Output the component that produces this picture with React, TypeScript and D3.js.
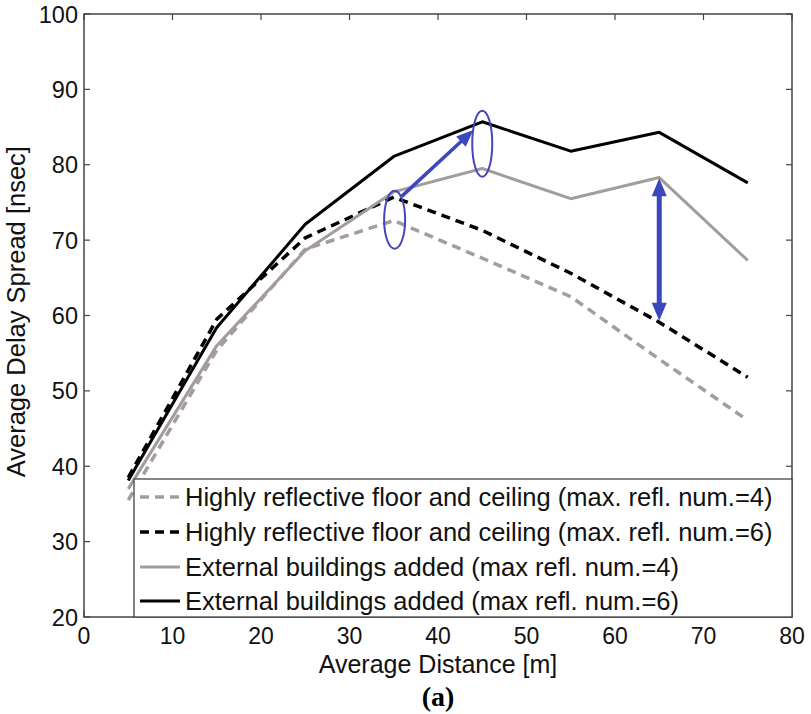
import React from "react";
import * as d3 from "d3";

const distances = [5, 15, 25, 35, 45, 55, 65, 75];
const floorRefl4 = [35.5, 55.4, 68.8, 72.6, 67.6, 62.5, 54.2, 46.1];
const floorRefl6 = [38.5, 59.5, 70.3, 75.7, 71.3, 65.6, 59.1, 51.8];
const buildings4 = [37.0, 56.0, 68.6, 76.4, 79.5, 75.5, 78.3, 67.3];
const buildings6 = [38.1, 58.4, 72.1, 81.1, 85.7, 81.8, 84.3, 77.6];

const xTicks = [0, 10, 20, 30, 40, 50, 60, 70, 80];
const yTicks = [20, 30, 40, 50, 60, 70, 80, 90, 100];

const seriesLabels = [
  "Highly reflective floor and ceiling (max. refl. num.=4)",
  "Highly reflective floor and ceiling (max. refl. num.=6)",
  "External buildings added (max refl. num.=4)",
  "External buildings added (max refl. num.=6)",
];

const W = 811;
const H = 714;
const FONT = "'Liberation Sans', Arial, sans-serif";
const BLUE = "#3b47bc";

export default function App() {
  const x = d3.scaleLinear().domain([0, 80]).range([84, 792]);
  const y = d3.scaleLinear().domain([20, 100]).range([617, 14]);

  const series = [
    { values: floorRefl4, color: "#a59d9b", dash: "9,6", width: 3.5 },
    { values: floorRefl6, color: "#000000", dash: "9,6", width: 3.5 },
    { values: buildings4, color: "#a39c9a", dash: null, width: 3 },
    { values: buildings6, color: "#000000", dash: null, width: 3 },
  ];

  const line = d3
    .line<[number, number]>()
    .x((d) => x(d[0]))
    .y((d) => y(d[1]));

  const legend = { x0: 134, y0: 479, x1: 792, y1: 617 };
  const rowY = [497, 532, 567, 601];

  // annotations (data units)
  const ell1 = { cx: 35.1, cy: 72.7, rx: 10.5, ry: 29 };
  const ell2 = { cx: 45.0, cy: 82.8, rx: 10, ry: 33 };
  const arrow1 = { x1: 35.9, y1: 75.8, x2: 44.0, y2: 84.6 };
  const arrow2 = { x: 65, y1: 78.2, y2: 59.3 };

  const head = (tx: number, ty: number, fx: number, fy: number, len: number, wid: number) => {
    const dx = tx - fx;
    const dy = ty - fy;
    const L = Math.hypot(dx, dy);
    const ux = dx / L;
    const uy = dy / L;
    const bx = tx - ux * len;
    const by = ty - uy * len;
    const px = -uy * (wid / 2);
    const py = ux * (wid / 2);
    return `${tx},${ty} ${bx + px},${by + py} ${bx - px},${by - py}`;
  };

  const a1x1 = x(arrow1.x1), a1y1 = y(arrow1.y1), a1x2 = x(arrow1.x2), a1y2 = y(arrow1.y2);
  const a2x = x(arrow2.x), a2y1 = y(arrow2.y1), a2y2 = y(arrow2.y2);
  const ang = Math.atan2(a1y2 - a1y1, a1x2 - a1x1);
  const a1lineEndX = a1x2 - Math.cos(ang) * 12;
  const a1lineEndY = a1y2 - Math.sin(ang) * 12;

  return (
    <svg
      width={W}
      height={H}
      style={{ position: "absolute", left: 0, top: 0, background: "#fff" }}
      fontFamily={FONT}
    >
      <rect x={0} y={0} width={W} height={H} fill="#fff" />
      {/* series */}
      {series.map((s, i) => (
        <path
          key={i}
          d={line(distances.map((d, j) => [d, s.values[j]] as [number, number])) || ""}
          fill="none"
          stroke={s.color}
          strokeWidth={s.width}
          strokeDasharray={s.dash || undefined}
          strokeLinejoin="round"
        />
      ))}

      {/* axes box */}
      <rect
        x={x(0)}
        y={y(100)}
        width={x(80) - x(0)}
        height={y(20) - y(100)}
        fill="none"
        stroke="#444"
        strokeWidth={1.5}
      />
      {xTicks.map((t) => (
        <g key={"xt" + t}>
          <line x1={x(t)} x2={x(t)} y1={y(20)} y2={y(20) - 6} stroke="#444" strokeWidth={1.2} />
          <line x1={x(t)} x2={x(t)} y1={y(100)} y2={y(100) + 6} stroke="#444" strokeWidth={1.2} />
          <text x={x(t)} y={644} textAnchor="middle" fontSize={23} fill="#111">
            {t}
          </text>
        </g>
      ))}
      {yTicks.map((t) => (
        <g key={"yt" + t}>
          <line x1={x(0)} x2={x(0) + 6} y1={y(t)} y2={y(t)} stroke="#444" strokeWidth={1.2} />
          <line x1={x(80)} x2={x(80) - 6} y1={y(t)} y2={y(t)} stroke="#444" strokeWidth={1.2} />
          <text x={78} y={y(t) + 8.5} textAnchor="end" fontSize={23.5} fill="#111">
            {t}
          </text>
        </g>
      ))}

      {/* axis titles */}
      <text x={438} y={673} textAnchor="middle" fontSize={25} fill="#111">
        Average Distance [m]
      </text>
      <text
        transform={`translate(25,${311.7}) rotate(-90)`}
        textAnchor="middle"
        fontSize={25.5}
        fill="#111"
      >
        Average Delay Spread [nsec]
      </text>
      <text
        x={438}
        y={706}
        textAnchor="middle"
        fontSize={28}
        fontWeight="bold"
        fontFamily="'Liberation Serif', 'Times New Roman', serif"
        fill="#000"
      >
        (a)
      </text>

      {/* legend */}
      <rect
        x={legend.x0}
        y={legend.y0}
        width={legend.x1 - legend.x0}
        height={legend.y1 - legend.y0}
        fill="#fff"
        stroke="#444"
        strokeWidth={1.3}
      />
      {series.map((s, i) => (
        <g key={"lg" + i}>
          <line
            x1={140}
            x2={180}
            y1={rowY[i]}
            y2={rowY[i]}
            stroke={s.color}
            strokeWidth={s.width}
            strokeDasharray={s.dash || undefined}
          />
          <text x={185} y={rowY[i] + 9} fontSize={25.5} fill="#111">
            {seriesLabels[i]}
          </text>
        </g>
      ))}

      {/* annotations */}
      <ellipse
        cx={x(ell1.cx)}
        cy={y(ell1.cy)}
        rx={ell1.rx}
        ry={ell1.ry}
        fill="none"
        stroke="#4545b5"
        strokeWidth={2}
      />
      <ellipse
        cx={x(ell2.cx)}
        cy={y(ell2.cy)}
        rx={ell2.rx}
        ry={ell2.ry}
        fill="none"
        stroke="#4545b5"
        strokeWidth={2}
      />
      <line x1={a1x1} y1={a1y1} x2={a1lineEndX} y2={a1lineEndY} stroke={BLUE} strokeWidth={3.5} />
      <polygon points={head(a1x2, a1y2, a1x1, a1y1, 17, 14)} fill={BLUE} />

      <line x1={a2x} x2={a2x} y1={a2y1 + 14} y2={a2y2 - 14} stroke={BLUE} strokeWidth={5} />
      <polygon points={head(a2x, a2y1, a2x, a2y2, 18, 15)} fill={BLUE} />
      <polygon points={head(a2x, a2y2, a2x, a2y1, 18, 15)} fill={BLUE} />
    </svg>
  );
}
